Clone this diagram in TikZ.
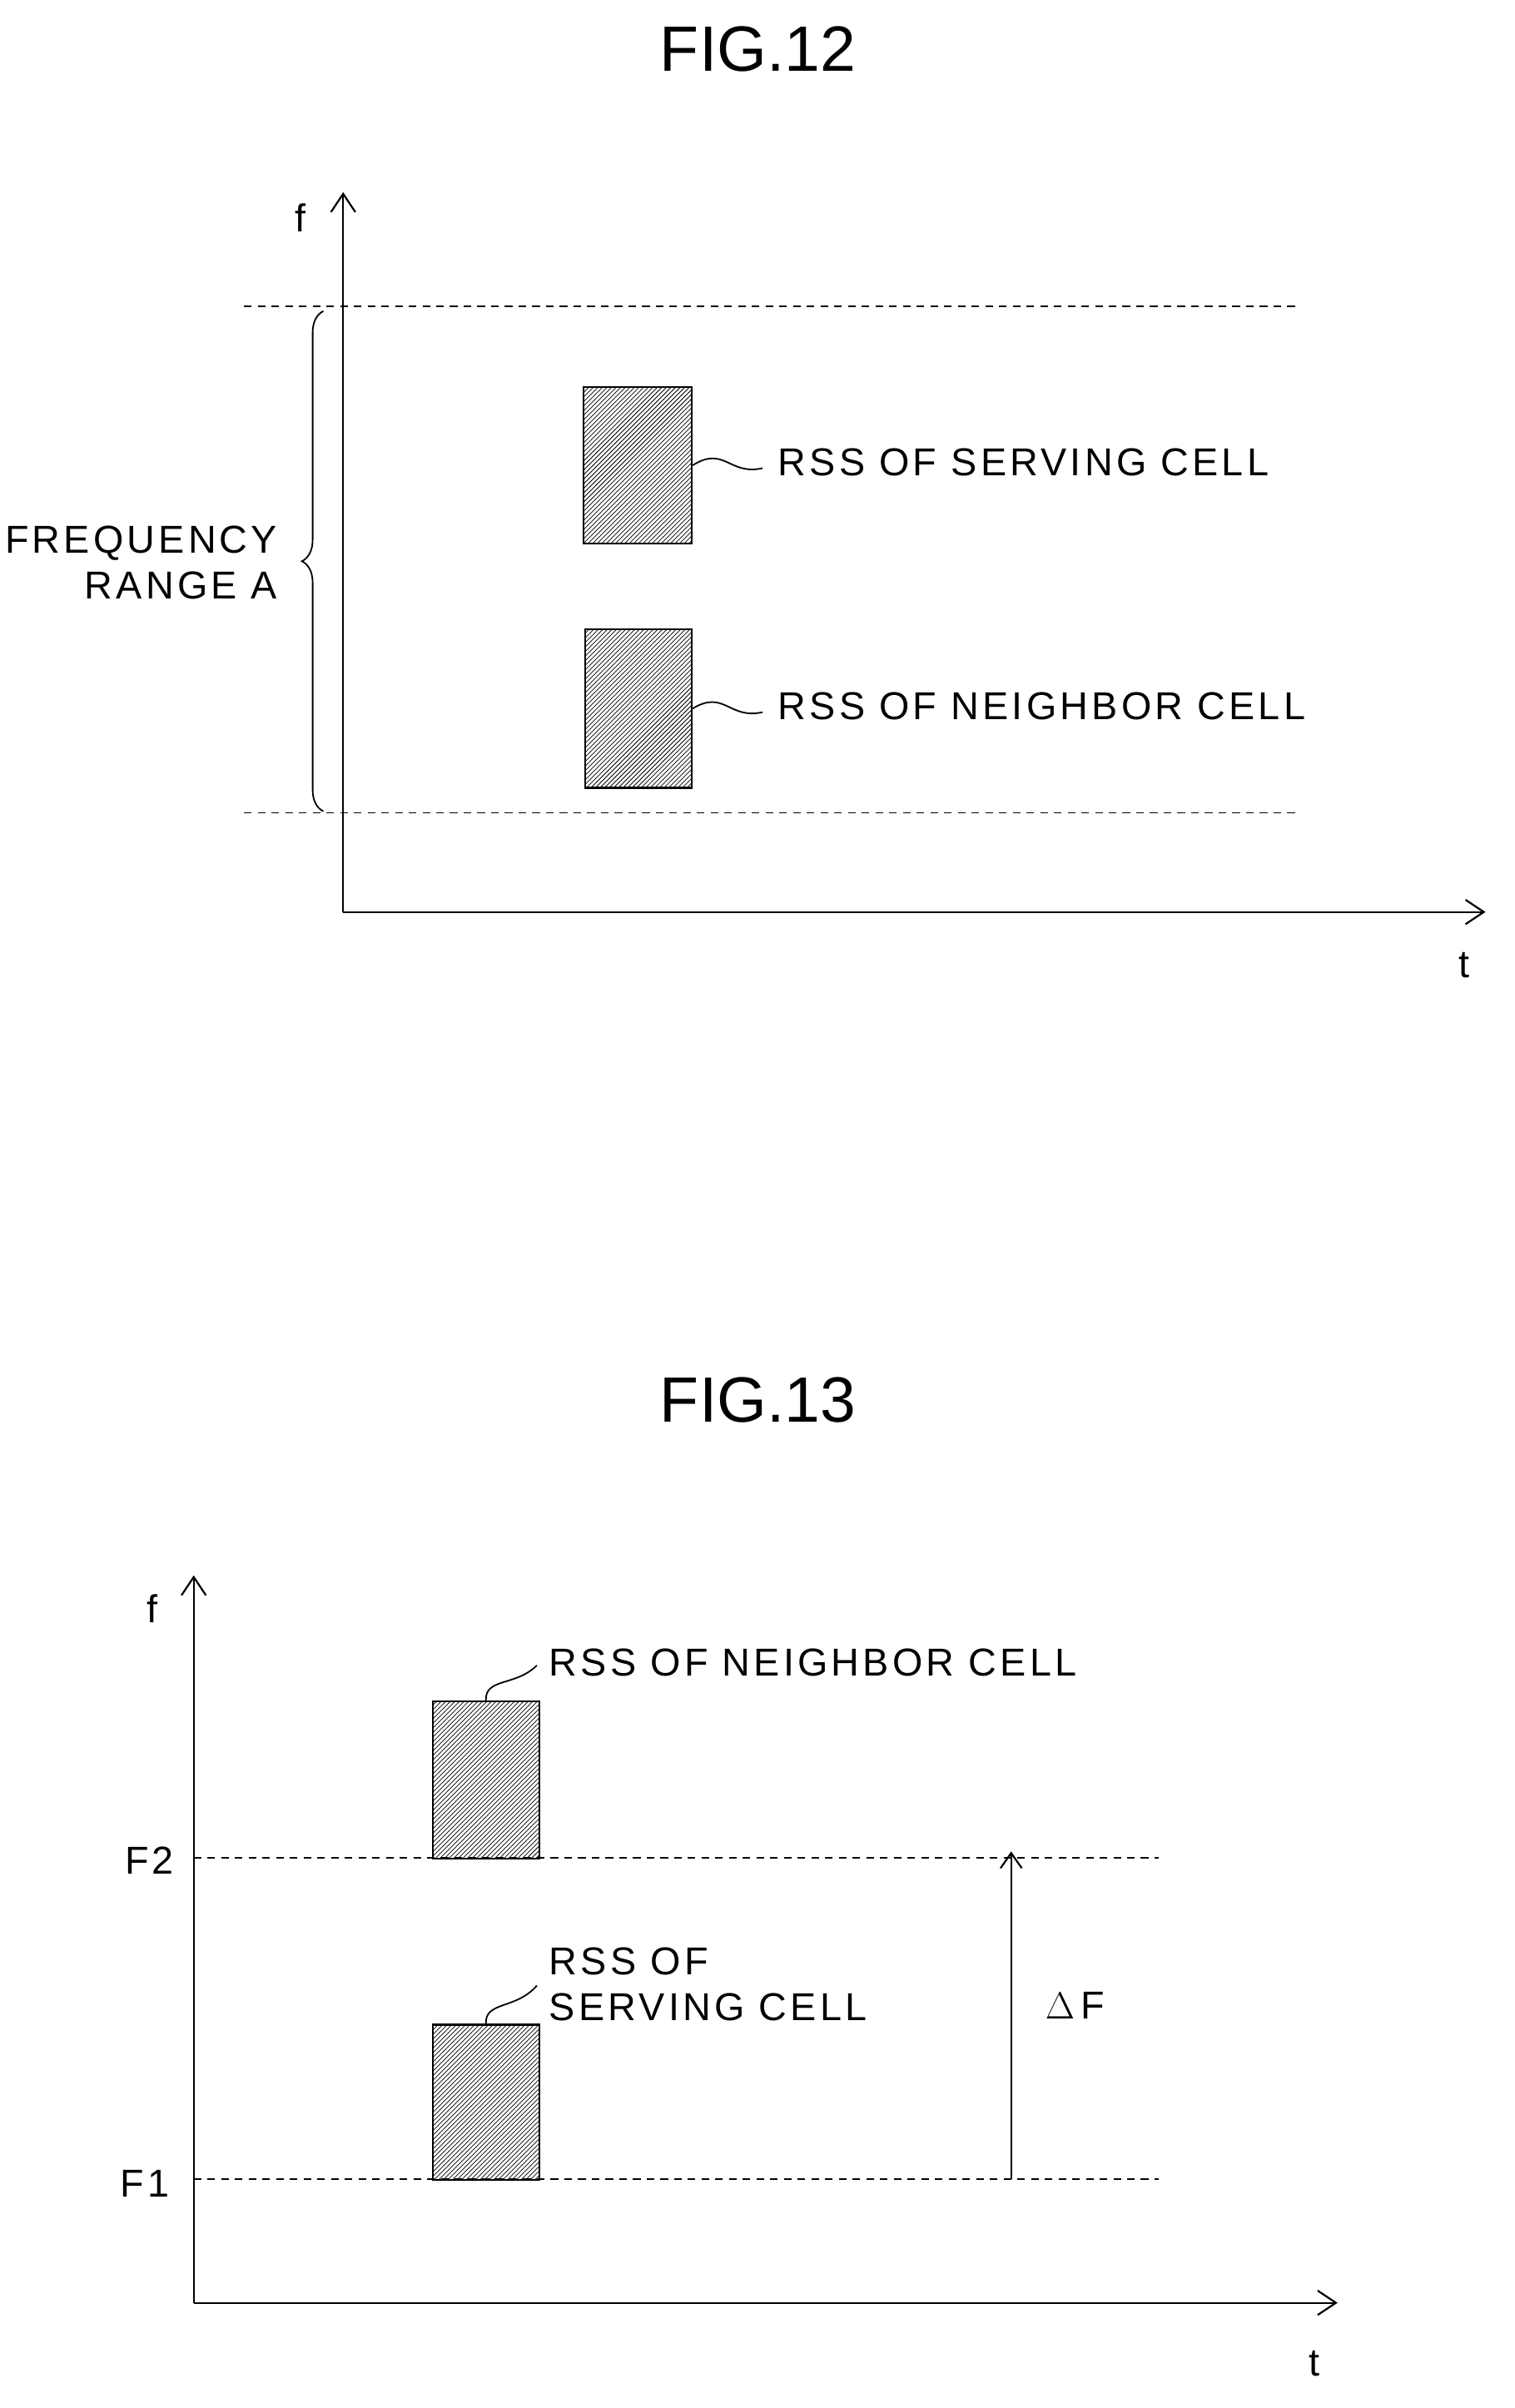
\documentclass[tikz,border=0pt]{standalone}
\usepackage{fontspec}
\setmainfont{Liberation Sans}[LetterSpace=9]
\usetikzlibrary{patterns,decorations.pathreplacing,arrows.meta}
\begin{document}
\begin{tikzpicture}[x=1pt,y=-1pt,
  ax/.style={line width=1.2pt,-{Straight Barb[length=12pt,width=16pt]}},
  dl/.style={dashed,line width=1pt,dash pattern=on 5pt off 4pt},
  rss/.style={draw,line width=1.2pt,pattern=north east lines,inner sep=0,anchor=north west},
  lab/.style={font=\fontsize{25.5}{30}\selectfont,inner sep=0,anchor=west},
  ttl/.style={font=\fontsize{42}{46}\selectfont\addfontfeature{LetterSpace=0}},
  ld/.style={line width=1pt}]
\useasboundingbox (0,0) rectangle (993,1579);
% FIG 12
\node[ttl] (t12) at (497,32) {FIG.12};
\coordinate (o12) at (225,598);
\coordinate (fy12) at (225,126);
\coordinate (tx12) at (974,598);
\draw[ax] (o12) -- (fy12);
\draw[ax] (o12) -- (tx12);
\node[lab,anchor=center] (f12) at (197,143) {f};
\node[lab,anchor=center] (tt12) at (960,633) {t};
\coordinate (d1a) at (160,201); \coordinate (d1b) at (852,201);
\coordinate (d2a) at (160,533); \coordinate (d2b) at (852,533);
\draw[dl] (d1a) -- (d1b);
\draw[dl] (d2a) -- (d2b);
\coordinate (b1) at (212,204); \coordinate (b2) at (212,532);
\draw[ld,decorate,decoration={brace,amplitude=14pt}] (b2) -- (b1);
\node[lab,anchor=east,align=right] (fra) at (182,369) {FREQUENCY\\RANGE A};
\node[rss,minimum width=71pt,minimum height=103pt] (s12) at (382,253) {};
\node[rss,minimum width=70pt,minimum height=104pt] (n12) at (383,412) {};
\node[lab] (ls12) at (510,303) {RSS OF SERVING CELL};
\node[lab] (ln12) at (510,463) {RSS OF NEIGHBOR CELL};
\coordinate (c12a) at (500,307);
\coordinate (c12b) at (500,467);
\draw[ld] (s12.east) .. controls (475,292) and (478,312) .. (c12a);
\draw[ld] (n12.east) .. controls (475,452) and (478,472) .. (c12b);
% FIG 13
\node[ttl] (t13) at (497,918) {FIG.13};
\coordinate (o13) at (127,1510);
\coordinate (fy13) at (127,1033);
\coordinate (tx13) at (877,1510);
\draw[ax] (o13) -- (fy13);
\draw[ax] (o13) -- (tx13);
\node[lab,anchor=center] (f13) at (100,1055) {f};
\node[lab,anchor=center] (tt13) at (862,1550) {t};
\coordinate (e1a) at (127,1218); \coordinate (e1b) at (760,1218);
\coordinate (e2a) at (127,1429); \coordinate (e2b) at (760,1429);
\draw[dl] (e1a) -- (e1b);
\draw[dl] (e2a) -- (e2b);
\node[lab,anchor=center] (F2) at (98,1220) {F2};
\node[lab,anchor=center] (F1) at (95,1432) {F1};
\node[rss,minimum width=70pt,minimum height=103pt] (n13) at (283,1115) {};
\node[rss,minimum width=70pt,minimum height=102pt] (s13) at (283,1327) {};
\node[lab] (ln13) at (360,1090) {RSS OF NEIGHBOR CELL};
\node[lab,align=left] (ls13) at (360,1301) {RSS OF\\SERVING CELL};
\coordinate (q1) at (352,1092);
\coordinate (q2) at (352,1302);
\draw[ld] (n13.north) .. controls (318,1100) and (338,1106) .. (q1);
\draw[ld] (s13.north) .. controls (318,1312) and (338,1318) .. (q2);
\coordinate (a1) at (663,1429); \coordinate (a2) at (663,1214);
\draw[ax,-{Straight Barb[length=10pt,width=14pt]}] (a1) -- (a2);
\node[lab,anchor=center] (dF) at (705,1315) {$\Delta$\,F};
\end{tikzpicture}
\end{document}
